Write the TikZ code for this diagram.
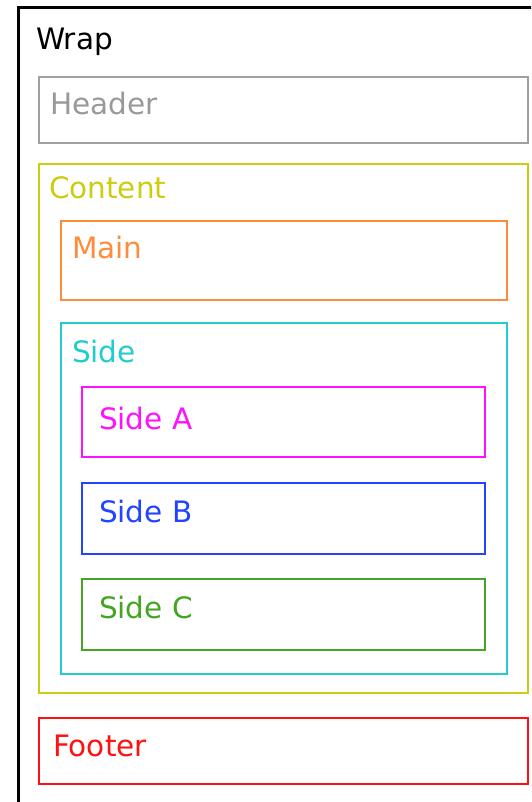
\documentclass[tikz,border=0pt]{standalone}
\usepackage{fontspec}
\setmainfont{DejaVu Sans}
\definecolor{hdrgray}{HTML}{A0A0A0}
\definecolor{hdrtext}{HTML}{999999}
\definecolor{cntyellow}{HTML}{CCCC11}
\definecolor{mainorange}{HTML}{FF8C3C}
\definecolor{sidecyan}{HTML}{22CCCC}
\definecolor{sidemag}{HTML}{FF11FF}
\definecolor{sideblue}{HTML}{2244FF}
\definecolor{sidegreen}{HTML}{44A522}
\definecolor{footred}{HTML}{FF1111}
\tikzset{
  box/.style={draw=#1, line width=2.5pt, rectangle, inner sep=0pt, outer sep=0pt, anchor=north west},
  lbl/.style={text=#1, anchor=base west, inner sep=0pt, outer sep=0pt, font=\fontsize{29.5}{31}\selectfont},
}
\begin{document}
\begin{tikzpicture}[x=1pt,y=-1pt]
\useasboundingbox (0,0) rectangle (531,802);
\clip (0,0) rectangle (531,802);
% outer wrapper, running past the right and bottom edges
\node[box=black, line width=3pt, minimum width=540pt, minimum height=820pt] (wrap) at (18,8) {};
\node[lbl=black] (wraplbl) at (36,50) {Wrap};
% header
\node[box=hdrgray, minimum width=489pt, minimum height=66pt] (header) at (39,77) {};
\node[lbl=hdrtext] (headerlbl) at (50,115) {Header};
% content area
\node[box=cntyellow, minimum width=489pt, minimum height=529pt] (content) at (39,164) {};
\node[lbl=cntyellow] (contentlbl) at (49,199) {Content};
% main column
\node[box=mainorange, minimum width=446pt, minimum height=79pt] (main) at (61,221) {};
\node[lbl=mainorange] (mainlbl) at (72,258) {Main};
% side column and its parts
\node[box=sidecyan, minimum width=446pt, minimum height=351pt] (side) at (61,323) {};
\node[lbl=sidecyan] (sidelbl) at (72,362) {Side};
\node[box=sidemag, minimum width=403pt, minimum height=70pt] (sidea) at (82,387) {};
\node[lbl=sidemag] (sidealbl) at (99,429) {Side A};
\node[box=sideblue, minimum width=403pt, minimum height=71pt] (sideb) at (82,483) {};
\node[lbl=sideblue] (sideblbl) at (99,522) {Side B};
\node[box=sidegreen, minimum width=403pt, minimum height=71pt] (sidec) at (82,579) {};
\node[lbl=sidegreen] (sideclbl) at (99,618) {Side C};
% footer
\node[box=footred, minimum width=489pt, minimum height=66pt] (footer) at (39,718) {};
\node[lbl=footred] (footerlbl) at (53,756) {Footer};
\end{tikzpicture}
\end{document}
